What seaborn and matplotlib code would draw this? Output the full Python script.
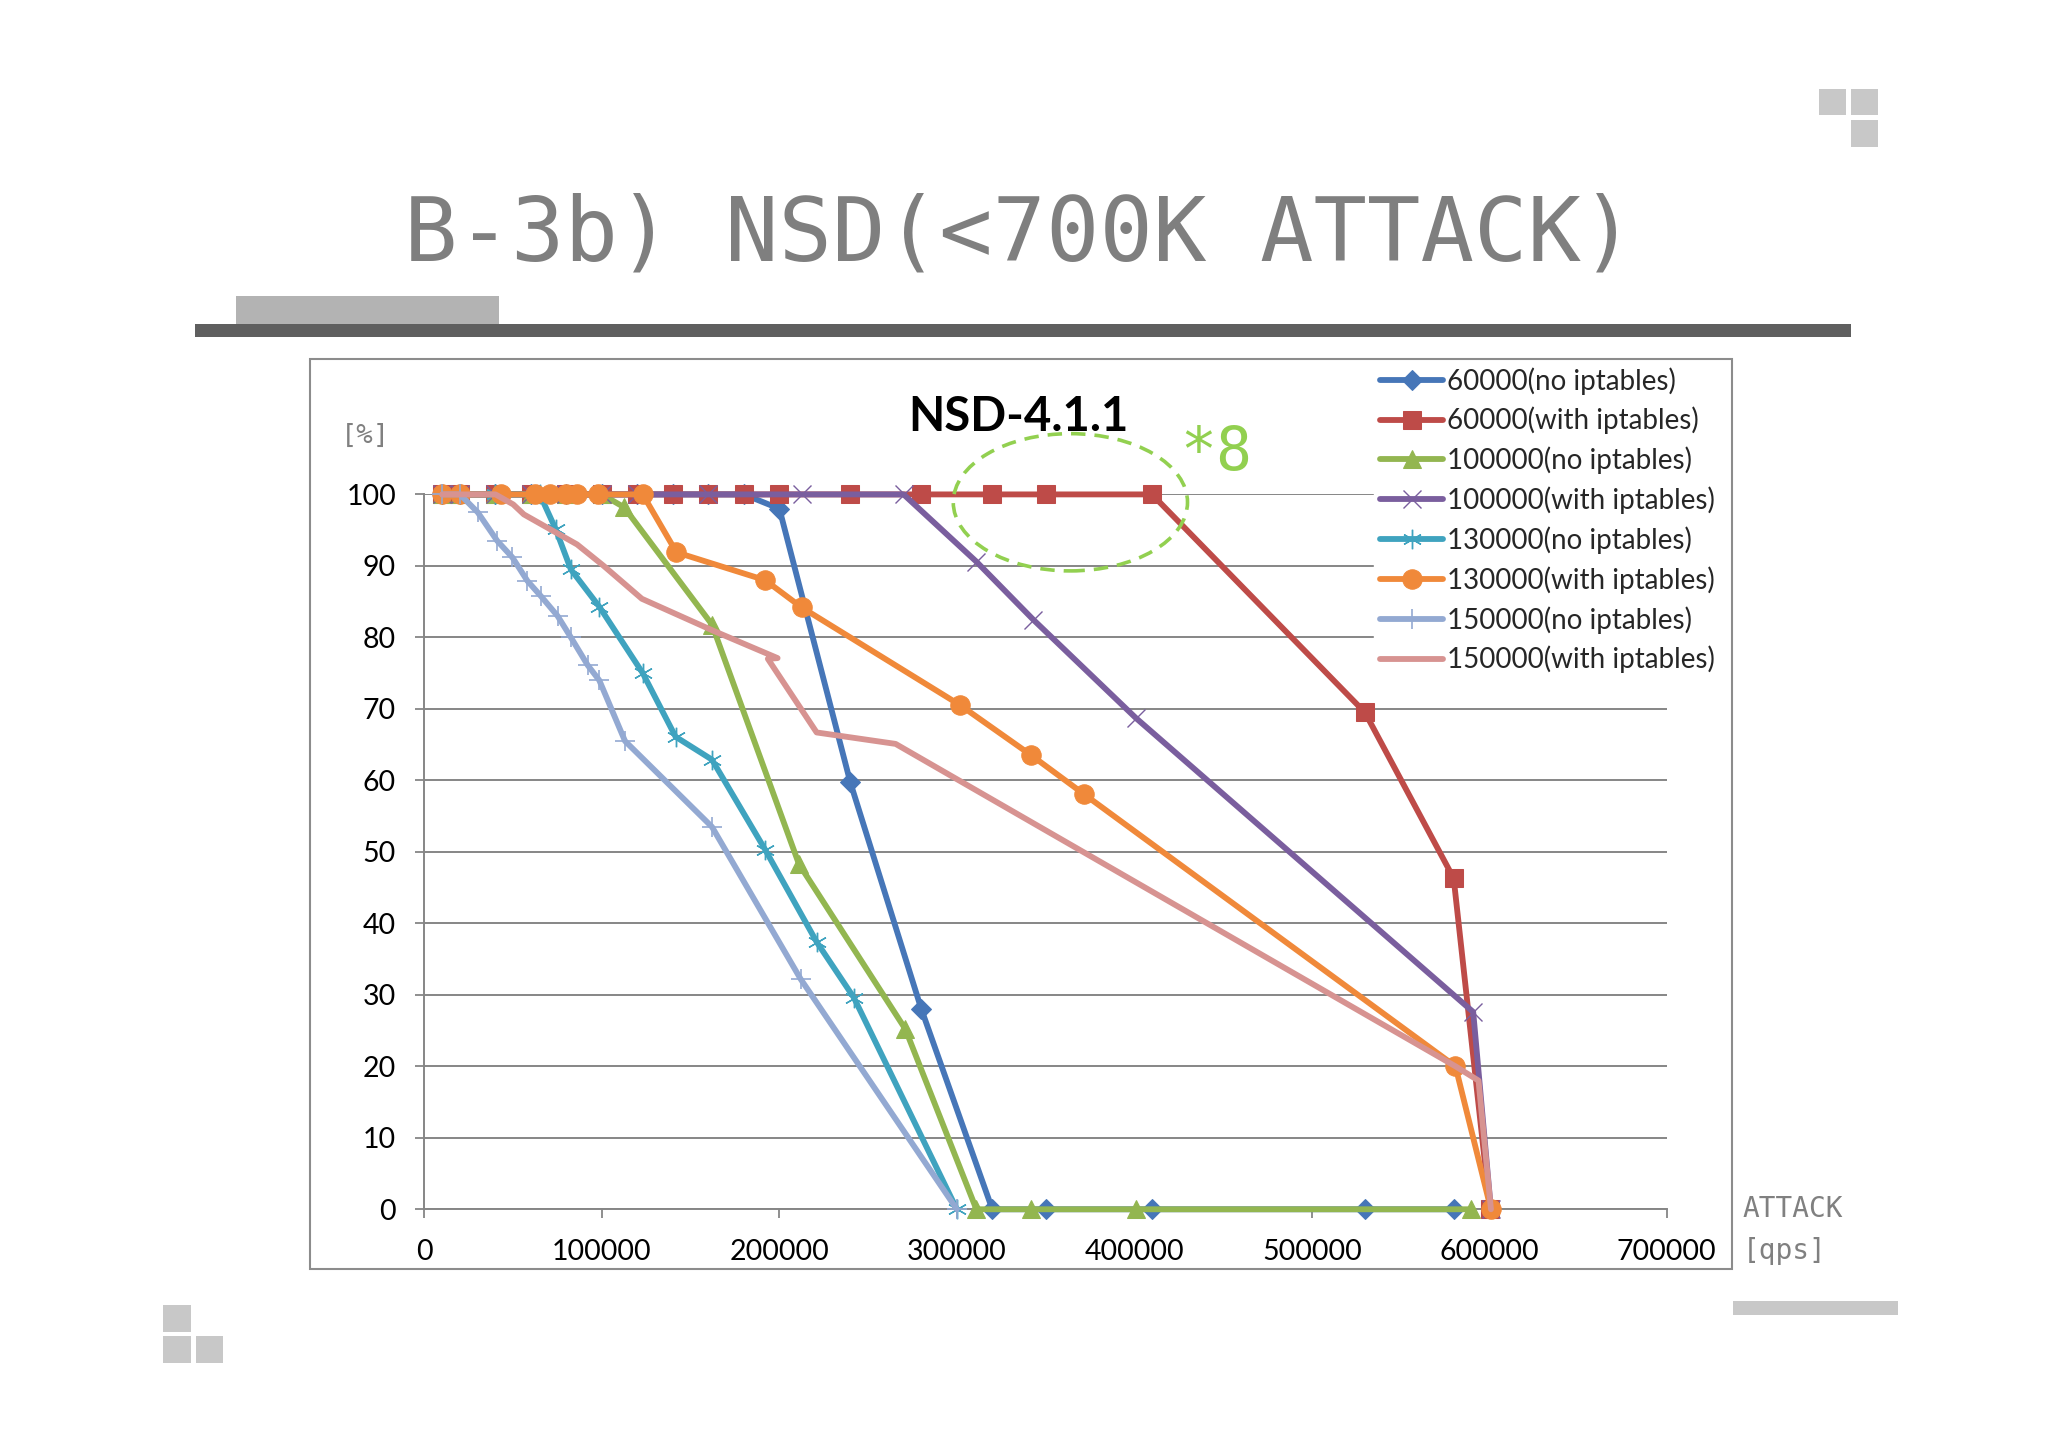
import matplotlib
matplotlib.use("Agg")
import matplotlib.pyplot as plt
import seaborn as sns
from matplotlib.patches import Rectangle, Ellipse

# ---- data ----
blue_x = [10000, 20000, 40000, 60000, 80000, 100000, 120000, 140000, 160000, 180000,
          200000, 240000, 280000, 320000, 350000, 410000, 530000, 580000]
blue_y = [100, 100, 100, 100, 100, 100, 100, 100, 100, 100,
          98, 59.7, 28, 0, 0, 0, 0, 0]

red_x = [10000, 20000, 40000, 60000, 80000, 100000, 120000, 140000, 160000, 180000,
         200000, 240000, 280000, 320000, 350000, 410000, 530000, 580000, 600500]
red_y = [100, 100, 100, 100, 100, 100, 100, 100, 100, 100,
         100, 100, 100, 100, 100, 100, 69.5, 46.3, 0]

green_x = [10000, 20000, 40000, 60000, 80000, 100000, 112500, 162000, 211000, 271000,
           311000, 342000, 401000, 590000]
green_y = [100, 100, 100, 100, 100, 100, 98.2, 81.8, 48.3, 25.2,
           0, 0, 0, 0]

purple_x = [10000, 20000, 40000, 60000, 80000, 100000, 120000, 160000, 213000, 270000,
            311000, 343000, 401000, 591000, 601000]
purple_y = [100, 100, 100, 100, 100, 100, 100, 100, 100, 100,
            90.6, 82.5, 68.7, 27.6, 0]

teal_x = [10000, 20000, 40000, 65000, 74000, 82500, 98500, 123000, 141500, 162000,
          192000, 221000, 242000, 300000]
teal_y = [100, 100, 100, 100, 95.1, 89.5, 84.3, 75.0, 66.1, 62.9,
          50.3, 37.4, 29.6, 0]

orange_x = [10000, 20000, 43000, 62000, 71000, 80000, 86000, 98000, 123000, 142000,
            192000, 212500, 302000, 342000, 371500, 581000, 601000]
orange_y = [100, 100, 100, 100, 100, 100, 100, 100, 100, 91.9,
            88, 84.2, 70.5, 63.5, 58.1, 20, 0]

lightblue_x = [10000, 20000, 30000, 41000, 49500, 58000, 65500, 75000, 82500, 92000,
               98500, 113000, 162000, 212000, 300000]
lightblue_y = [100, 100, 97.5, 93.5, 91.2, 87.9, 85.8, 83.0, 80.0, 76.1,
               74.0, 65.5, 53.5, 32.2, 0]

pink_x = [10000, 20000, 40000, 50000, 56000, 86000, 101000, 122500, 163000, 199000,
          193500, 221000, 265500, 581000, 594000, 601000]
pink_y = [100, 100, 100, 98.6, 97.2, 93.0, 90.0, 85.4, 80.9, 77.1,
          77.0, 66.7, 65.1, 20, 18, 0]

labels = ["60000(no iptables)", "60000(with iptables)", "100000(no iptables)",
          "100000(with iptables)", "130000(no iptables)", "130000(with iptables)",
          "150000(no iptables)", "150000(with iptables)"]
xticks = [0, 100000, 200000, 300000, 400000, 500000, 600000, 700000]
yticks = [0, 10, 20, 30, 40, 50, 60, 70, 80, 90, 100]

series = [
    (blue_x, blue_y, "#4676B8", dict(marker="D", markersize=10)),
    (red_x, red_y, "#BE4B48", dict(marker="s", markersize=13)),
    (green_x, green_y, "#93B650", dict(marker="^", markersize=13)),
    (purple_x, purple_y, "#7A5E9E", dict(marker="x", markersize=13, markeredgewidth=1.0)),
    (teal_x, teal_y, "#3FA3BF", dict(marker=(6, 2, 0), markersize=14, markeredgewidth=1.0)),
    (orange_x, orange_y, "#F0893A", dict(marker="o", markersize=14)),
    (lightblue_x, lightblue_y, "#93A9D2", dict(marker="+", markersize=15, markeredgewidth=1.2)),
    (pink_x, pink_y, "#D79391", dict()),
]

sns.set_theme(style="white")
plt.rcParams['font.family'] = ['Lato', 'DejaVu Sans']
MONO = ['DejaVu Sans Mono']
GRAY = '#868686'

W, H = 1568.0, 1110.0   # reference layout units


def fx(px):
    return px / W


def fy(py):
    return 1 - py / H


fig = plt.figure(figsize=(20.48, 14.48), dpi=100)
fig.patch.set_facecolor('white')

# slide decoration
fig.text(fx(780), fy(181), "B-3b) NSD(<700K ATTACK)", ha='center', va='center',
         fontsize=64, color='#7f7f7f', family=MONO)
fig.add_artist(Rectangle((fx(149), fy(258)), fx(1417) - fx(149), 10 / H,
                         transform=fig.transFigure, color='#5f5f5f', lw=0))
fig.add_artist(Rectangle((fx(181), fy(248)), fx(382) - fx(181), 21 / H,
                         transform=fig.transFigure, color='#b3b3b3', lw=0))
for (sx, sy, sw, sh) in [(1393, 68, 20, 20), (1417, 68, 21, 20), (1417, 92, 21, 21),
                         (125, 1000, 21, 21), (125, 1024, 21, 21), (150, 1024, 21, 21),
                         (1327, 997, 126, 11)]:
    fig.add_artist(Rectangle((fx(sx), fy(sy + sh)), sw / W, sh / H,
                             transform=fig.transFigure, color='#c8c8c8', lw=0))

# chart frame
fig.add_artist(Rectangle((fx(237), fy(973)), fx(1326) - fx(237), (973 - 275) / H,
                         transform=fig.transFigure, fill=False, ec='#8c8c8c', lw=1.5))

ax = fig.add_axes([fx(325), fy(927), fx(1276) - fx(325), (927 - 379) / H])
ax.set_facecolor('none')

for (xs, ys, col, mk), lab in zip(series, labels):
    sns.lineplot(x=xs, y=ys, ax=ax, color=col, linewidth=4.2, sort=False,
                 estimator=None, label=lab, markeredgecolor=col, **mk)

for ln in ax.lines:
    ln.set_clip_on(False)
    ln.set_zorder(3)

ax.set_xlim(0, 700000)
ax.set_ylim(0, 100)
ax.set_xticks(xticks)
ax.set_xticklabels([str(t) for t in xticks])
ax.set_yticks(yticks)
ax.set_yticklabels([str(t) for t in yticks])
ax.set_xlabel("")
ax.set_ylabel("")

ax.grid(axis='y', color=GRAY, lw=1.4)
ax.grid(axis='x', visible=False)
ax.set_axisbelow(True)
for s in ['top', 'right']:
    ax.spines[s].set_visible(False)
for s in ['left', 'bottom']:
    ax.spines[s].set_color(GRAY)
    ax.spines[s].set_linewidth(1.4)
ax.tick_params(axis='both', direction='out', length=6.5, width=1.3, color=GRAY,
               labelsize=20.5, labelcolor='black')
ax.tick_params(axis='x', pad=15, bottom=True)
ax.tick_params(axis='y', pad=14, left=True)

# chart title and annotation
fig.text(fx(780), fy(320), "NSD-4.1.1", ha='center', va='center', fontsize=34,
         fontweight='bold', color='black')
ax.add_patch(Ellipse((364000, 98.9), 132000, 19.2, fill=False, ec='#92D050',
                     lw=2.6, ls=(0, (4, 2.5)), clip_on=False, zorder=4))
fig.text(fx(931), fy(348), "*8", ha='center', va='center', fontsize=43,
         color='#92D050', family=MONO)

fig.text(fx(280), fy(334), "[%]", ha='center', va='center', fontsize=19.5,
         color='#808080', family=MONO)
fig.text(fx(1334), fy(927), "ATTACK", ha='left', va='center', fontsize=20,
         color='#808080', family=MONO)
fig.text(fx(1334), fy(959), "[qps]", ha='left', va='center', fontsize=20,
         color='#808080', family=MONO)

leg = ax.legend(loc='upper left', bbox_to_anchor=(fx(1052), fy(277)),
                bbox_transform=fig.transFigure, borderaxespad=0, borderpad=0.2,
                frameon=True, fancybox=False, framealpha=1, facecolor='white',
                edgecolor='white', fontsize=20, handlelength=2.3, handletextpad=0.12,
                labelspacing=0.44)
leg.set_zorder(6)

fig.savefig("out.png", dpi=100, facecolor='white')
